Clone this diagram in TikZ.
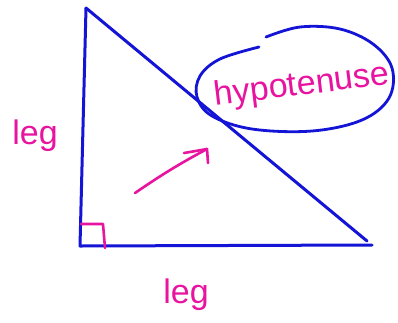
\documentclass[tikz,border=0pt]{standalone}
\usepackage{fontspec}
\newfontfamily\hand{Liberation Sans}
\definecolor{penblue}{RGB}{20,20,215}
\definecolor{penpink}{RGB}{232,20,160}
\tikzset{
  blueline/.style={draw=penblue, line width=3pt, line cap=round, line join=round},
  pinkline/.style={draw=penpink, line width=2.6pt, line cap=round, line join=round},
  pinktext/.style={text=penpink, inner sep=0pt, font=\hand\fontsize{34}{34}\selectfont},
}
\begin{document}
\begin{tikzpicture}[x=1pt,y=-1pt]
\useasboundingbox[fill=white] (0,0) rectangle (398,322);
% triangle
\coordinate (top) at (86,8);
\coordinate (bl) at (80,246);
\coordinate (br) at (372,245);
\coordinate (hend) at (367,241);
\draw[blueline] (top) -- (bl) -- (br);
\draw[blueline] (top) -- (hend);
% right angle mark
\coordinate (ra1) at (81,224);
\coordinate (ra2) at (103,224);
\coordinate (ra3) at (105,248);
\draw[pinkline] (ra1) -- (ra2) -- (ra3);
% arrow
\coordinate (as) at (135,193);
\coordinate (ae) at (207,149);
\coordinate (ah1) at (184,153);
\coordinate (ah2) at (208,163);
\draw[pinkline] (as) to[bend left=3] (ae);
\draw[pinkline] (ah1) -- (ae) -- (ah2);
% ellipse loop
\draw[blueline, line width=2.8pt] plot[smooth, tension=0.6] coordinates {
  (266,37) (300,27) (340,29) (373,44) (392,68) (389,98) (362,120) (312,131)
  (252,129) (212,116) (197,97) (200,76) (220,59) (259,47)};
% labels
\node[pinktext, rotate=7] (hyp) at (302,86) {hypotenuse};
\node[pinktext] (legl) at (35,136) {leg};
\node[pinktext] (legb) at (186,295) {leg};
\end{tikzpicture}
\end{document}
